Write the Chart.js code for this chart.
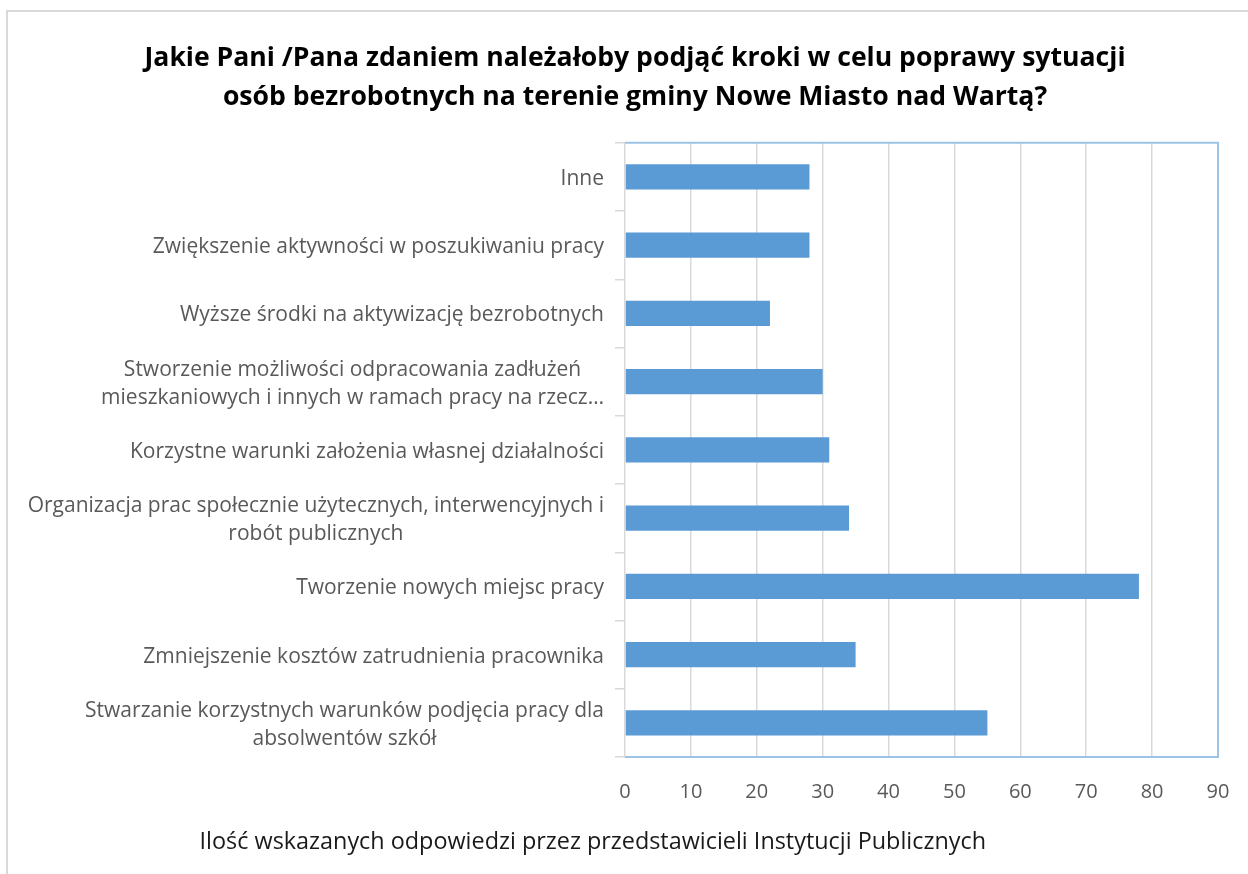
<!DOCTYPE html>
<html>
<head>
<meta charset="utf-8">
<script src="https://cdn.jsdelivr.net/npm/chart.js@4.4.1/dist/chart.umd.min.js"></script>
<style>
body{margin:0;background:#fff;overflow:hidden}
#frame{position:absolute;left:6px;top:10px;width:1400px;height:1000px;border-left:2px solid #d9d9d9;border-top:2px solid #d9d9d9}
#wrap{position:absolute;left:0;top:0;width:1248px;height:874px}
</style>
</head>
<body>
<div id="frame"></div>
<div id="wrap"><canvas id="chart" width="1248" height="874"></canvas></div>
<script>
// pytania od góry do dołu
const categories = [
    "Inne",
    "Zwiększenie aktywności w poszukiwaniu pracy",
    "Wyższe środki na aktywizację bezrobotnych",
    ["Stworzenie możliwości odpracowania zadłużeń", "mieszkaniowych i innych w ramach pracy na rzecz…"],
    "Korzystne warunki założenia własnej działalności",
    ["Organizacja prac społecznie użytecznych, interwencyjnych i", "robót publicznych"],
    "Tworzenie nowych miejsc pracy",
    "Zmniejszenie kosztów zatrudnienia pracownika",
    ["Stwarzanie korzystnych warunków podjęcia pracy dla", "absolwentów szkół"]
];
const values = [28, 28, 22, 30, 31, 34, 78, 35, 55];
const xTicks = [0, 10, 20, 30, 40, 50, 60, 70, 80, 90];

const titleLines = [
    "Jakie Pani /Pana zdaniem należałoby podjąć kroki w celu poprawy sytuacji",
    "osób bezrobotnych na terenie gminy Nowe Miasto nad Wartą?"
];
const xTitle = "Ilość wskazanych odpowiedzi przez przedstawicieli Instytucji Publicznych";

const blue = "#5b9bd5";
const frameBlue = "#9dc3e6";
const grid = "#d9d9d9";
const textGrey = "#595959";
const fontFam = "'Open Sans', sans-serif";

// etykiety kategorii: linie wyśrodkowane w bloku, blok do prawej
const yLabels = {
    id: 'yLabels',
    afterDraw(chart) {
        const ctx = chart.ctx;
        const y = chart.scales.y;
        const right = chart.chartArea.left - 21;
        ctx.save();
        ctx.font = "21px " + fontFam;
        ctx.fillStyle = textGrey;
        ctx.textBaseline = 'middle';
        ctx.textAlign = 'center';
        categories.forEach((lab, i) => {
            const lines = Array.isArray(lab) ? lab : [lab];
            const w = Math.max(...lines.map(l => ctx.measureText(l).width));
            const cx = right - w / 2;
            const yc = y.getPixelForTick(i) + 2;
            lines.forEach((l, k) => {
                ctx.fillText(l, cx, yc + (k - (lines.length - 1) / 2) * 28);
            });
        });
        ctx.restore();
    }
};

// ramka obszaru wykresu (góra, prawo, dół) + podpis osi
const frame = {
    id: 'frame',
    afterDatasetsDraw(chart) {
        const {ctx, chartArea: a} = chart;
        ctx.save();
        ctx.strokeStyle = frameBlue;
        ctx.lineWidth = 2;
        ctx.beginPath();
        ctx.moveTo(a.left, a.top);
        ctx.lineTo(a.right, a.top);
        ctx.lineTo(a.right, a.bottom);
        ctx.lineTo(a.left, a.bottom);
        ctx.stroke();
        ctx.restore();
    },
    afterDraw(chart) {
        const ctx = chart.ctx;
        ctx.save();
        ctx.font = "23.4px " + fontFam;
        ctx.fillStyle = "#1a1a1a";
        ctx.textAlign = 'center';
        ctx.textBaseline = 'middle';
        ctx.fillText(xTitle, chart.width * 0.475, 842);
        ctx.restore();
    }
};

new Chart(document.getElementById('chart'), {
    type: 'bar',
    data: {
        labels: categories,
        datasets: [{
            data: values,
            backgroundColor: blue,
            borderWidth: 0,
            categoryPercentage: 1,
            barPercentage: 0.37
        }]
    },
    plugins: [yLabels, frame],
    options: {
        indexAxis: 'y',
        responsive: false,
        animation: false,
        layout: {padding: {left: 52, right: 30, top: 0, bottom: 0}},
        plugins: {
            legend: {display: false},
            tooltip: {enabled: false},
            title: {
                display: true,
                text: titleLines,
                color: "#000",
                font: {family: fontFam, size: 26.6, weight: 'bold', lineHeight: 1.5},
                padding: {top: 38, bottom: 25}
            }
        },
        scales: {
            x: {
                min: xTicks[0],
                max: xTicks[xTicks.length - 1],
                ticks: {
                    stepSize: xTicks[1] - xTicks[0],
                    color: textGrey,
                    font: {family: fontFam, size: 20},
                    padding: 15
                },
                grid: {color: grid, lineWidth: 1.5, drawTicks: true, tickLength: 8, tickColor: 'rgba(0,0,0,0)'},
                border: {display: false},
                afterFit(s) { s.height = 117; }
            },
            y: {
                ticks: {display: false},
                grid: {color: grid, lineWidth: 1.5, drawOnChartArea: false, tickLength: 10, offset: true},
                border: {display: false},
                afterFit(s) { s.width = 573; }
            }
        }
    }
});
</script>
</body>
</html>
